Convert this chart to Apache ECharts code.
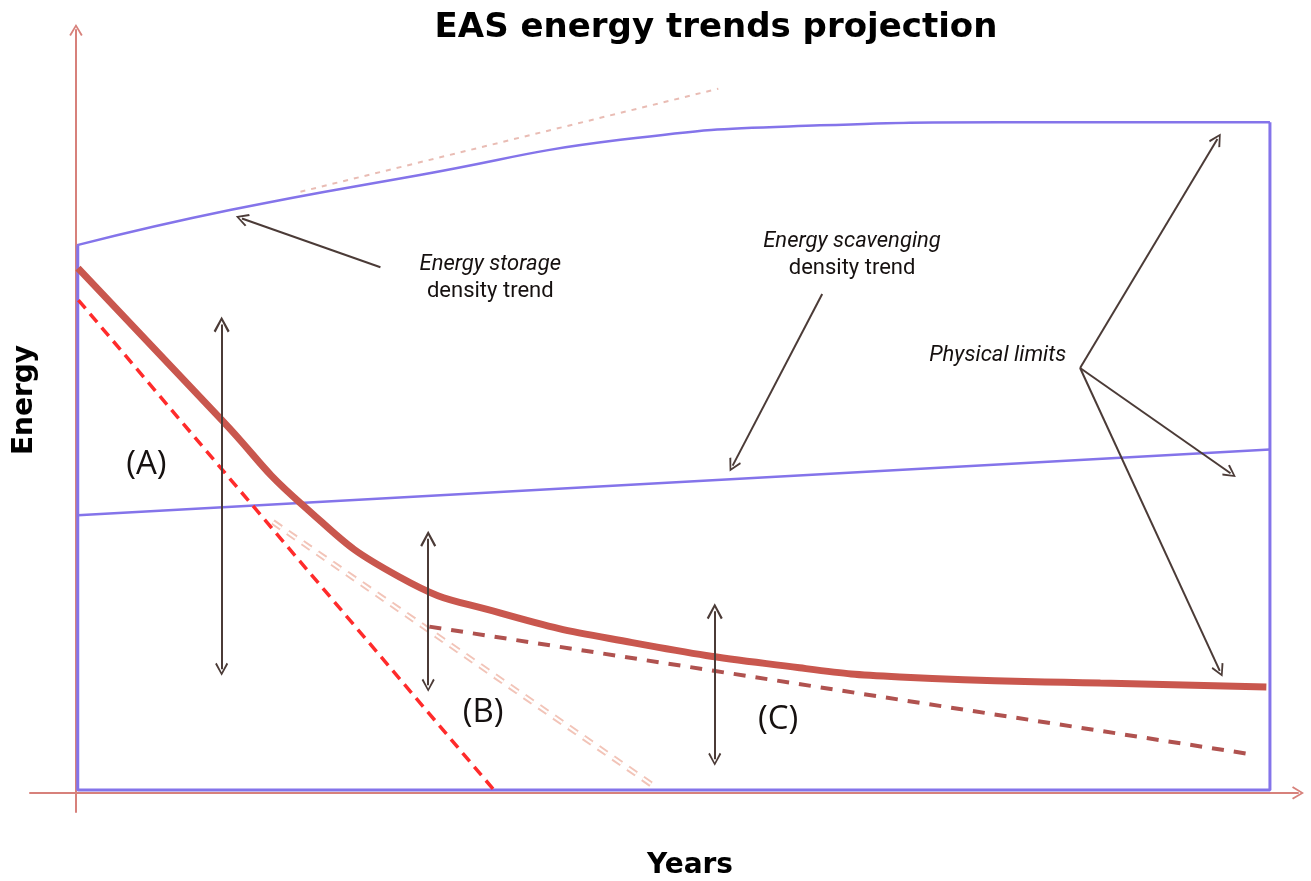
<!DOCTYPE html>
<html><head><meta charset="utf-8">
<script src="https://cdn.jsdelivr.net/npm/echarts@6/dist/echarts.min.js"></script>
<style>html,body{margin:0;padding:0;background:#fff}#c{width:1311px;height:881px}</style>
</head><body><div id="c"></div>
<script>
// ---- data (x: years, 0-100 scale; y: energy, 0-100 scale) ----
const storageTrend = [[0.1,71.8],[12.9,76.4],[28.8,81.0],[45.6,85.6],[62.3,87.5],[77.4,87.9],[100,87.9]];
const storageExtrapolation = [[18.8,78.8],[53.8,92.3]];
const physicalLimitBox = [[0.15,71.8],[0.15,0.4],[100,0.4],[100,87.9]];
const scavengingTrend = [[0.15,36.4],[100,45.0]];
const consumption = [[0.17,68.8],[12.2,48.9],[18.8,38.0],[27.1,28.3],[35.5,23.6],[46.6,19.7],[60.6,16.4],[69.0,15.2],[85.8,14.4],[99.7,13.9]];
const consumptionLinear = [[0.2,64.6],[35.0,0.4]];
const consumptionB = [[16.5,35.5],[48.3,1.0]];
const consumptionC = [[29.6,21.8],[98.7,5.0]];
const gapArrows = [ [[12.2,61.4],[12.2,16.2]], [[29.5,33.3],[29.5,14.1]], [[53.5,23.8],[53.5,4.4]] ];
const pointerArrows = [
  [[25.5,68.9],[13.9,75.3]],
  [[62.5,65.4],[55.0,42.9]],
  [[84.1,55.7],[95.6,85.7]],
  [[84.1,55.7],[96.7,41.9]],
  [[84.1,55.7],[95.8,16.0]]
];
const annotations = [
  {pos:[34.7,67.5], text:'{i|Energy storage}\n{n|density trend}'},
  {pos:[65.0,70.5], text:'{i|Energy scavenging}\n{n|density trend}'},
  {pos:[77.2,57.4], text:'{i|Physical limits}'},
  {pos:[5.9,43.0], text:'{b|(A)}'},
  {pos:[34.1,10.5], text:'{b|(B)}'},
  {pos:[58.8,9.6], text:'{b|(C)}'}
];
const titleText = 'EAS energy trends projection';
const xName = 'Years';
const yName = 'Energy';

// ---- chart ----
const chev = 'path://M5,0 L10,8.2 L8.8,9 L5,2.4 L1.2,9 L0,8.2 Z';
const arrowColor = '#4b3b37';
const blue = '#8474ea';
function line(data, color, width, type, z, extra){
  return Object.assign({type:'line', data, showSymbol:false, symbol:'none', silent:true, z:z||2,
    lineStyle:{color, width, type:type||'solid', cap:'butt'}}, extra||{});
}
const chart = echarts.init(document.getElementById('c'));
chart.setOption({
  animation:false,
  grid:{left:30, right:13, top:30, bottom:69, containLabel:false, outerBoundsMode:'none'},
  graphic:[
    {type:'text', x:716, y:28, style:{text:titleText, align:'center', verticalAlign:'middle', font:'bold 34px "DejaVu Sans"', fill:'#000'}},
    {type:'text', x:690, y:866, style:{text:xName, align:'center', verticalAlign:'middle', font:'bold 28px "DejaVu Sans"', fill:'#000'}},
    {type:'text', x:25, y:400, rotation:Math.PI/2, style:{text:yName, align:'center', verticalAlign:'middle', font:'bold 28px "DejaVu Sans"', fill:'#000'}}
  ],
  xAxis:{type:'value', min:-3.85, max:102.35, splitLine:{show:false}, axisTick:{show:false}, axisLabel:{show:false},
    axisLine:{show:true, onZero:true, lineStyle:{color:'#d7817b', width:2}, symbol:['none',chev], symbolSize:[15,12]}},
  yAxis:{type:'value', min:-2.5, max:100, splitLine:{show:false}, axisTick:{show:false}, axisLabel:{show:false},
    axisLine:{show:true, onZero:true, lineStyle:{color:'#d7817b', width:2}, symbol:['none',chev], symbolSize:[15,12]}},
  series:[
    line(physicalLimitBox, blue, 3, 'solid', 3),
    line(storageTrend, blue, 2.5, 'solid', 3, {smooth:0.5}),
    line(storageExtrapolation, '#e9bcb4', 2, [5,6], 2),
    line(scavengingTrend, blue, 2.5, 'solid', 3),
    line(consumptionB, '#f2c4b8', 6, [10,8], 4),
    line(consumptionB, '#ffffff', 2.2, [10,8], 5),
    line(consumptionLinear, '#ff2b2b', 3.5, [11,7], 6),
    line(consumptionC, '#b0524f', 4, [12,10], 6),
    line(consumption, '#c9574e', 7, 'solid', 7, {smooth:0.5}),
    {type:'lines', coordinateSystem:'cartesian2d', silent:true, z:8, polyline:false,
      symbol:[chev,chev], symbolSize:[16,13],
      lineStyle:{color:arrowColor, width:2, opacity:1, curveness:0},
      data: gapArrows.map(c=>({coords:c}))},
    {type:'lines', coordinateSystem:'cartesian2d', silent:true, z:8, polyline:false,
      symbol:['none',chev], symbolSize:[16,13],
      lineStyle:{color:arrowColor, width:2, opacity:1, curveness:0},
      data: pointerArrows.map(c=>({coords:c}))},
    {type:'scatter', symbolSize:0, silent:true, z:9, itemStyle:{opacity:1},
      data: annotations.map(a=>({value:a.pos, label:{formatter:a.text}})),
      label:{show:true, opacity:1, position:'inside', align:'center', verticalAlign:'middle',
        rich:{
          i:{fontFamily:'Roboto', fontStyle:'italic', fontSize:22, color:'#161110', lineHeight:27, align:'center'},
          n:{fontFamily:'Roboto', fontSize:22, color:'#161110', lineHeight:27, align:'center'},
          b:{fontFamily:'"Open Sans"', fontSize:33, color:'#161110', align:'center'}
        }}}
  ]
});
</script></body></html>
